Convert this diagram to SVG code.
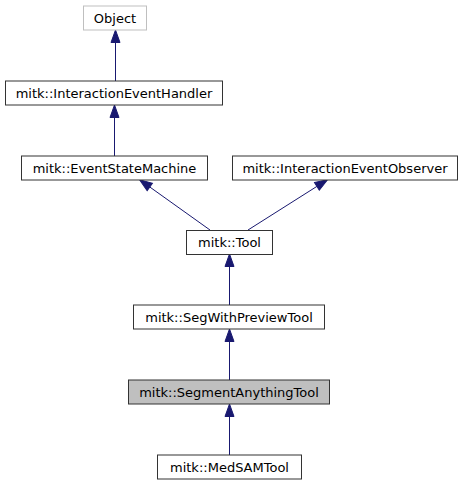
<svg xmlns="http://www.w3.org/2000/svg" width="464" height="485" viewBox="0 0 464 485">
<style>
.n rect{fill:#ffffff;stroke:#333333;stroke-width:1}
.n text{font-family:"DejaVu Sans",sans-serif;font-size:13px;fill:#000;text-anchor:middle}
#obj rect{stroke:#bfbfbf}
#sat rect{fill:#bfbfbf}
.e line{stroke:#191970;stroke-width:1;fill:none;marker-end:url(#ah)}
</style>
<defs>
<marker id="ah" markerUnits="userSpaceOnUse" markerWidth="14" markerHeight="12" refX="0" refY="5" orient="auto" overflow="visible">
<path d="M0,0.5 L12.5,5 L0,9.5 z" fill="#191970" stroke="#191970" stroke-width="1"/>
</marker>
</defs>
<rect width="464" height="485" fill="#fff"/>
<g id="edges" class="e">
<line x1="115.5" y1="81" x2="115.5" y2="42.5"/>
<line x1="114.5" y1="156" x2="114.5" y2="117.5"/>
<line x1="210" y1="230" x2="149.8" y2="187"/>
<line x1="248" y1="230" x2="316.9" y2="186.4"/>
<line x1="229.5" y1="305" x2="229.5" y2="266.5"/>
<line x1="229.5" y1="380" x2="229.5" y2="341.5"/>
<line x1="229.5" y1="455" x2="229.5" y2="416.5"/>
</g>
<g id="obj" class="n"><rect x="83.5" y="6" width="63" height="24"/><text x="115" y="22.5">Object</text></g>
<g id="ieh" class="n"><rect x="5.5" y="81" width="217" height="24"/><text x="114" y="97.5">mitk::InteractionEventHandler</text></g>
<g id="esm" class="n"><rect x="21.5" y="156" width="186" height="24"/><text x="114.5" y="172.5">mitk::EventStateMachine</text></g>
<g id="ieo" class="n"><rect x="232.5" y="156" width="225" height="24"/><text x="345" y="172.5">mitk::InteractionEventObserver</text></g>
<g id="tool" class="n"><rect x="186.5" y="230.5" width="86" height="24"/><text x="229.5" y="247">mitk::Tool</text></g>
<g id="swp" class="n"><rect x="133.5" y="305" width="191" height="24"/><text x="229" y="321.5">mitk::SegWithPreviewTool</text></g>
<g id="sat" class="n"><rect x="128.5" y="380" width="201" height="24"/><text x="229" y="396.5">mitk::SegmentAnythingTool</text></g>
<g id="med" class="n"><rect x="157.5" y="455" width="144" height="24"/><text x="229.5" y="471.5">mitk::MedSAMTool</text></g>
</svg>
